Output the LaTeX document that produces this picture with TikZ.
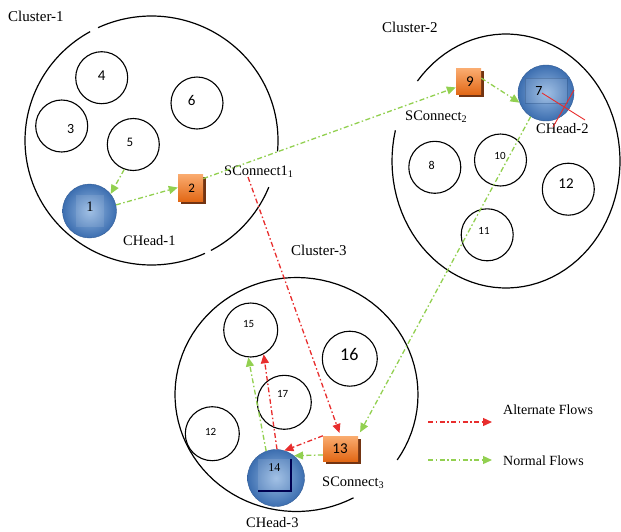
\documentclass[tikz,border=0pt]{standalone}
\usepackage{fontspec}
\setmainfont{Liberation Serif}
\newfontfamily\numfont{Carlito}
\usetikzlibrary{arrows.meta,shadows,calc}
\definecolor{ngreen}{RGB}{146,208,80}
\definecolor{nred}{RGB}{232,45,45}
\definecolor{ballin}{RGB}{150,185,226}
\definecolor{ballout}{RGB}{60,110,176}
\definecolor{ortop}{RGB}{250,172,112}
\definecolor{orbot}{RGB}{226,104,22}
\definecolor{orshadow}{RGB}{115,52,18}
\newcommand{\ellarc}[6]{\draw[cl] plot[domain=#5:#6,samples=90,variable=\t] ({#1+#3*cos(\t)},{#2+#4*sin(\t)});}
\begin{document}
\begin{tikzpicture}[x=1pt,y=-1pt,
  cl/.style={line width=1.2pt,black},
  ring/.style={circle,draw,line width=1.1pt,inner sep=0pt,minimum size=#1},
  num/.style={font=\numfont\fontsize{#1}{#1}\selectfont,inner sep=0pt},
  snum/.style={font=\fontsize{#1}{#1}\selectfont,inner sep=0pt},
  lbl/.style={font=\fontsize{15}{17}\selectfont,inner sep=0pt,anchor=west},
  hlbl/.style={font=\fontsize{14.5}{17}\selectfont,inner sep=0pt,anchor=west},
  leg/.style={font=\fontsize{14}{16}\selectfont,inner sep=0pt,anchor=west},
  sphere/.style={circle,minimum size=#1,inner sep=0pt,inner color=ballin,outer color=ballout,draw=ballout!85!black,line width=0.4pt},
  sq/.style={rectangle,inner sep=0pt,top color=ortop,bottom color=orbot,
    drop shadow={shadow xshift=2.5pt,shadow yshift=-2.5pt,fill=orshadow,opacity=1}},
  flow/.style={line width=1.3pt,dash pattern=on 5pt off 2.5pt on 1.5pt off 2.5pt,-{Triangle[length=9pt,width=8pt]}},
  normflow/.style={flow,ngreen},
  altflow/.style={flow,nred}]
\useasboundingbox (0,0) rectangle (621,531);

% clusters
\ellarc{151.5}{140.5}{126.5}{124.5}{22}{62}
\ellarc{151.5}{140.5}{126.5}{124.5}{65}{241}
\ellarc{151.5}{140.5}{126.5}{124.5}{245}{365}
\ellarc{506}{161}{114}{127}{219}{554}
\ellarc{296.5}{394.5}{121.5}{117}{62}{394}

\node[lbl] (c1) at (8,16) {Cluster-1};
\node[lbl] (c2) at (382,27) {Cluster-2};
\node[lbl] (c3) at (291,250) {Cluster-3};

% cluster 1
\node[ring=52pt] (n4) at (101.7,77.7) {};
\node[num=15] (t4) at (101.7,76) {4};
\node[ring=52pt] (n3) at (61.7,126) {};
\node[num=14] (t3) at (70.7,129) {3};
\node[ring=52pt] (n6) at (197,103) {};
\node[num=15] (t6) at (191.7,100.7) {6};
\node[ring=52pt] (n5) at (133.3,144.5) {};
\node[num=13] (t5) at (130,142.3) {5};
\node[sphere=54pt] (n1) at (89.5,211) {};
\fill[white,opacity=0.1] (76,195) rectangle (104,227);
\node[snum=14.5] (t1) at (90,206.7) {1};
\node[sq,minimum width=25pt,minimum height=27pt] (n2) at (190.5,187.5) {};
\node[num=13] (t2) at (191.7,188.3) {2};
\node[hlbl] (s1) at (224,172) {SConnect1\textsubscript{1}};
\node[hlbl] (h1) at (123,241) {CHead-1};

% cluster 2
\node[ring=52pt] (n8) at (434.8,167.3) {};
\node[num=12] (t8) at (431.7,165) {8};
\node[ring=52pt] (n10) at (500.5,160) {};
\node[num=11] (t10) at (500,156) {10};
\node[ring=52pt] (n12) at (568.3,189.2) {};
\node[num=15] (t12) at (566,184) {12};
\node[ring=52pt] (n11) at (487.2,234.8) {};
\node[num=11] (t11) at (484,231) {11};
\node[sphere=56pt] (n7) at (546,93) {};
\fill[white,opacity=0.1] (525,78) rectangle (567,103);
\draw[ballout!70!black,opacity=0.35,line width=0.6pt] (525,78) rectangle (567,103);
\node[num=14] (t7) at (539,90.7) {7};
\node[sq,minimum width=25pt,minimum height=26pt] (n9) at (468.5,81.5) {};
\node[num=15] (t9) at (470,81.7) {9};
\node[hlbl] (s2) at (405,117) {SConnect\textsubscript{2}};
\node[hlbl] (h2) at (536,129) {CHead-2};
\coordinate (x1) at (542,93);
\coordinate (x2) at (585,120);
\coordinate (x3) at (553,127);
\coordinate (x4) at (574,90);
\draw[nred,line width=0.9pt] (x1) -- (x2);
\draw[nred,line width=0.9pt] (x3) -- (x4);

% cluster 3
\node[ring=54pt] (n15) at (250.7,330) {};
\node[num=11] (t15) at (248.7,324) {15};
\node[ring=55pt] (n16) at (349.8,358.7) {};
\node[num=18] (t16) at (349.3,354) {16};
\node[ring=54pt] (n17) at (284.3,402.3) {};
\node[num=11] (t17) at (282.7,394.3) {17};
\node[ring=54pt] (n12b) at (212.3,433.7) {};
\node[num=11] (t12b) at (210.7,432.3) {12};
\node[sphere=57pt] (n14) at (276,478) {};
\fill[white,opacity=0.12] (258,459) rectangle (290,491);
\draw[black!30!blue!45!black,line width=1.6pt] (258,491) -- (291,491) -- (291,459);
\node[snum=12] (t14) at (274.3,467.3) {14};
\node[sq,minimum width=35pt,minimum height=25pt] (n13) at (340.5,448.5) {};
\node[num=15] (t13) at (340,449) {13};
\node[hlbl] (s3) at (322,483) {SConnect\textsubscript{3}};
\node[hlbl] (h3) at (246,522.5) {CHead-3};

% flows
\coordinate (r0) at (248,177);
\draw[normflow] (n5.250) -- (n1.39);
\draw[normflow] (n1.13) -- (n2.west);
\draw[normflow] (n2.35) -- (n9.205);
\draw[normflow] (n9.15) -- (n7.200);
\draw[normflow,shorten >=4pt] (n7.237) -- (n13.north east);
\draw[normflow] (n13.200) -- (n14.51);
\draw[normflow] (n14.110) -- (n15.265);
\draw[altflow,shorten >=3pt] (r0) -- (n13.north);
\draw[altflow] (n13.north west) -- (n14.73);
\draw[altflow] (n14.88) -- (n15.298);

% legend
\coordinate (la1) at (428,422);
\coordinate (la2) at (492,422);
\coordinate (lb1) at (428,460);
\coordinate (lb2) at (492,460);
\draw[altflow] (la1) -- (la2);
\draw[normflow] (lb1) -- (lb2);
\node[leg] (la) at (503,410) {Alternate Flows};
\node[leg] (lb) at (503,461) {Normal Flows};
\end{tikzpicture}
\end{document}
